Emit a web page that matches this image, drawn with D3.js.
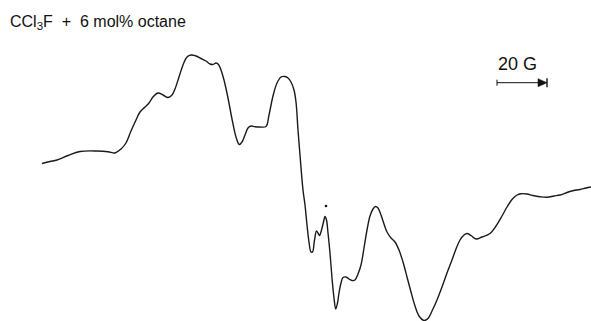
<!DOCTYPE html>
<html>
<head>
<meta charset="utf-8">
<script src="https://cdn.jsdelivr.net/npm/d3@7"></script>
<style>
	body { margin: 0; background: #fff; }
	svg text { font-family: "Liberation Sans", Arial, sans-serif; fill: #111; }
</style>
</head>
<body>
<div id="graph"></div>
<script>
// magnetic field offset (G) and first-derivative signal (arb. units)
var field = [0, 3.2, 6, 10.4, 15.2, 22, 26.4, 29.2, 31.6, 33.6, 35.6, 37.6, 39.2, 41.2, 42.8, 44.4, 46.4, 48.4, 50.4, 52,
	53.2, 54.8, 56.4, 58, 59.6, 61.6, 63.6, 65.6, 67.2, 68.4, 69.6, 70.6, 71.6, 72.8, 74.4, 76, 77.6, 78.9, 80, 81.2,
	82.4, 83.6, 85.2, 87.2, 89.6, 90.8, 92.4, 94, 95.6, 97.2, 98.4, 99.6, 100.8, 101.6, 102.4, 103.2, 104.4, 105.2, 106, 106.8,
	107.6, 108.2, 109, 109.8, 110.4, 111, 111.8, 112.6, 113.2, 113.8, 114.4, 115.2, 116, 116.8, 117.5, 118.2, 118.8, 119.6, 120.4, 121.6,
	122.8, 124, 125.2, 126.4, 127.6, 128.8, 130, 131.2, 132.4, 133.4, 134.4, 135.6, 136.8, 138, 139.6, 141.2, 142.8, 144.4, 146, 147.6,
	149.2, 150.8, 152.8, 154.4, 156, 158, 160, 162, 164, 165.6, 167.2, 168.8, 170, 171.6, 173.6, 176, 179.2, 181.6, 184, 186,
	188, 190, 191.6, 194, 196.4, 199.2, 202, 204.8, 207.2, 210, 212.4, 215.2, 217.6, 219.6];
var signal = [21.5, 23.5, 25, 29.5, 33.5, 34, 33.3, 32, 36, 42, 54, 65, 73, 78, 82, 88, 92, 90, 87.5, 90,
	96, 108, 120, 128, 130, 129, 126.5, 124, 121, 120.5, 122, 120.5, 115, 105, 87, 66, 48, 40.5, 43, 50,
	57, 59, 58.3, 58, 58.5, 70, 89, 102, 108, 108.5, 107, 103, 95, 83, 55, 30, -5, -20, -40, -57,
	-67, -67, -55, -46, -48, -50.5, -45, -37, -31.5, -35, -48, -68, -93, -113, -124, -118, -108, -98, -92.5, -92,
	-94, -95.5, -95, -89, -80, -63, -45, -31, -24, -21.5, -23, -30, -39, -47, -53, -57, -65, -77, -92, -107,
	-121, -131, -135.5, -133.5, -126, -115, -102, -88, -75, -64, -55, -50, -48.5, -50.5, -54, -52, -48.5, -41, -31, -22,
	-14.5, -10, -8.7, -9, -10.5, -11.7, -12.3, -11, -10, -7.5, -5.7, -4.5, -3, -2];

// small dot marked above the central line
var markField = [113.6];
var markSignal = [-21];

var titleParts = ["CCl", "3", "F  +  6 mol% octane"];
var scaleBarStart = 182;  // G
var scaleBarLength = 20;  // G
var scaleBarLabel = "20 G";

var w = 591, h = 321;
var svg = d3.select("#graph").append("svg").attr("width", w).attr("height", h);

var x = d3.scaleLinear().domain([0, 219.6]).range([42, 591]);
var y = d3.scaleLinear().domain([-140, 140]).range([325, 45]);

var pts = field.map(function (f, i) { return [f, signal[i]]; });

var line = d3.line()
	.x(function (d) { return x(d[0]); })
	.y(function (d) { return y(d[1]); })
	.curve(d3.curveCatmullRom.alpha(0.5));

svg.append("path").datum(pts)
	.attr("d", line)
	.attr("fill", "none")
	.attr("stroke", "#1a1a1a")
	.attr("stroke-width", 1.4)
	.attr("stroke-linejoin", "round");

svg.selectAll("circle.mark").data(markField).enter().append("circle")
	.attr("class", "mark")
	.attr("cx", function (d) { return x(d); })
	.attr("cy", function (d, i) { return y(markSignal[i]); })
	.attr("r", 1.3)
	.attr("fill", "#111");

// title with subscript
var title = svg.append("text").attr("x", 10).attr("y", 27)
	.attr("font-size", 16).attr("xml:space", "preserve").style("white-space", "pre");
title.append("tspan").text(titleParts[0]);
title.append("tspan").attr("font-size", 11.5).attr("dy", 3).text(titleParts[1]);
title.append("tspan").attr("dy", -3).text(titleParts[2]);

// scale bar
var x0 = x(scaleBarStart), x1 = x(scaleBarStart + scaleBarLength), by = 82.7;
var bar = svg.append("g").attr("stroke", "#111").attr("fill", "#111");
bar.append("line").attr("x1", x0).attr("x2", x1 - 6).attr("y1", by).attr("y2", by).attr("stroke-width", 1);
bar.append("line").attr("x1", x0).attr("x2", x0).attr("y1", by - 3).attr("y2", by + 3).attr("stroke-width", 1);
bar.append("path").attr("d", "M" + (x1 - 9) + "," + (by - 4) + "L" + x1 + "," + by + "L" + (x1 - 9) + "," + (by + 4) + "Z")
	.attr("stroke-width", 0.5);
bar.append("line").attr("x1", x1).attr("x2", x1).attr("y1", by - 4.5).attr("y2", by + 4.5).attr("stroke-width", 1.4);
svg.append("text").attr("x", x0 + 1).attr("y", 70).attr("font-size", 18).text(scaleBarLabel);
</script>
</body>
</html>
